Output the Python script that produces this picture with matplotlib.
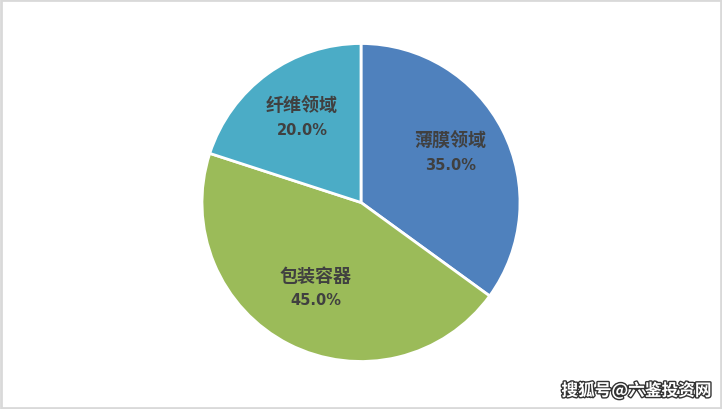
import numpy as np
import matplotlib.pyplot as plt
import matplotlib.patheffects as pe
from matplotlib.patches import Rectangle

plt.rcParams['font.family'] = ['Noto Sans CJK SC', 'DejaVu Sans']

# Data
categories = ['薄膜领域', '包装容器', '纤维领域']
shares = [35.0, 45.0, 20.0]
colors = ['#4F81BD', '#9BBB59', '#4BACC6']

fig = plt.figure(figsize=(7.22, 4.10), dpi=100)
fig.patch.set_facecolor('white')

# pie centre ~ (361, 203.5) px, radius ~159 px
cx, cy, r = 361, 203.5, 159
ax = fig.add_axes([(cx - r) / 722, (410 - cy - r) / 410, 2 * r / 722, 2 * r / 410])
wedges, _ = ax.pie(shares, colors=colors, startangle=90, counterclock=False,
                   radius=1, wedgeprops=dict(edgecolor='white', linewidth=2))
ax.set_xlim(-1, 1)
ax.set_ylim(-1, 1)
ax.set_aspect('equal')
ax.axis('off')

# labels inside the slices
for w, name, val in zip(wedges, categories, shares):
    mid = np.deg2rad((w.theta1 + w.theta2) / 2)
    x, y = 0.63 * np.cos(mid), 0.63 * np.sin(mid) + 0.03
    ax.text(x, y + 0.075, name, ha='center', va='center', fontsize=13,
            fontweight='bold', color='#404040')
    ax.text(x, y - 0.08, f'{val:.1f}%', ha='center', va='center', fontsize=10.5,
            fontweight='bold', color='#404040', family='DejaVu Sans')

# frame
fig.patches.append(Rectangle((0.0015, 0.0025), 0.997, 0.995, transform=fig.transFigure,
                             fill=False, edgecolor='#D9D9D9', linewidth=2))

# watermark
fig.text(0.985, 0.045, '搜狐号@六鉴投资网', ha='right', va='center', fontsize=12,
         color='white', fontweight='bold',
         path_effects=[pe.withStroke(linewidth=2, foreground='#333333')])

fig.savefig('out.png', dpi=100)
